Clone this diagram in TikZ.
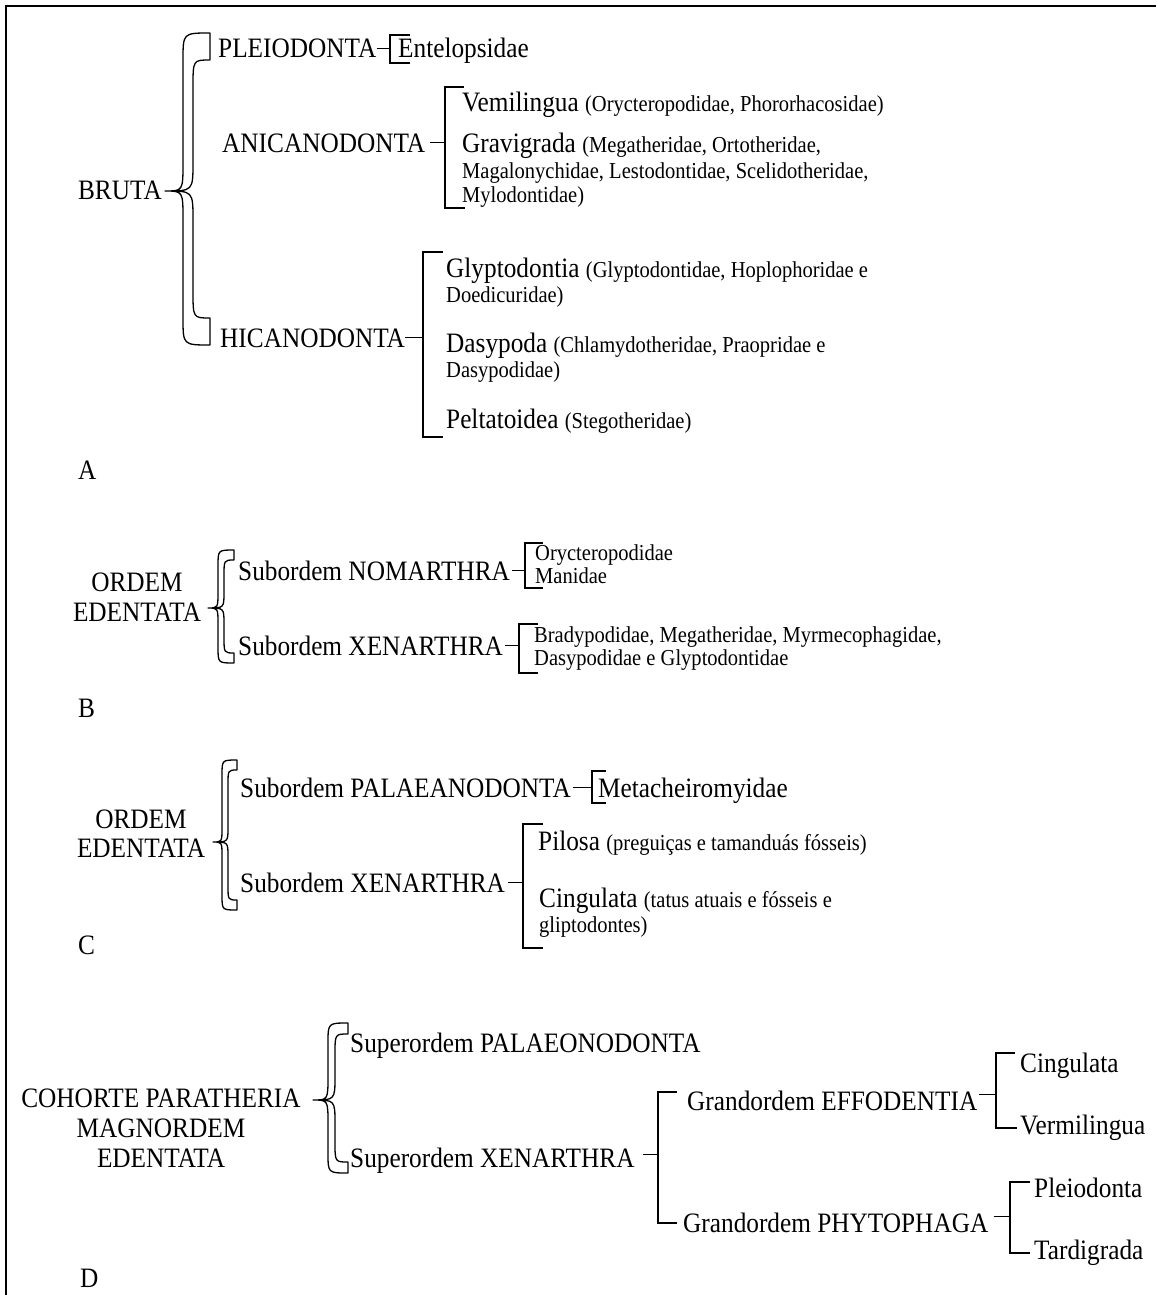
\documentclass[tikz,border=0pt]{standalone}
\usepackage{fontspec}
\setmainfont{Liberation Serif}[FakeStretch=0.9]
\usetikzlibrary{calc}

\newcommand{\sm}[1]{{\fontsize{22.8}{27}\selectfont #1}}
% hollow curly brace: tip x, spine x, end x, top y, tip y, bottom y, end height, stroke width
\newcommand{\hollowbrace}[8]{%
  \pgfmathsetmacro{\bk}{#3-#2}\pgfmathsetmacro{\bm}{1.6*(#2-#1)}%
  \draw[bracefill] (#3,#4) .. controls (#2,#4) .. (#2,#4+\bk)
    -- (#2,#5-\bm) .. controls (#2,#5) .. (#1,#5)
    .. controls (#2,#5) .. (#2,#5+\bm)
    -- (#2,#6-\bk) .. controls (#2,#6) .. (#3,#6)
    -- (#3,#6-#7) .. controls (#2+#8,#6-#7) .. (#2+#8,#6-#7-\bk)
    -- (#2+#8,#5+\bm) .. controls (#2+#8,#5) .. (#1,#5)
    .. controls (#2+#8,#5) .. (#2+#8,#5-\bm)
    -- (#2+#8,#4+#7+\bk) .. controls (#2+#8,#4+#7) .. (#3,#4+#7) -- cycle;}

\begin{document}
\begin{tikzpicture}[x=1pt,y=-1pt,
  taxon/.style={inner sep=0pt, anchor=base west, text height=18.6pt, text depth=0pt, font=\fontsize{28.1}{33}\selectfont},
  taxonsm/.style={inner sep=0pt, anchor=base west, font=\fontsize{22.8}{27}\selectfont},
  taxonc/.style={taxon, anchor=base},
  brk/.style={line width=1.5pt},
  bracefill/.style={line width=1.3pt, fill=white, line join=round}]
  \useasboundingbox (0,0) rectangle (1156,1295);
  \draw[line width=2pt] (6,1295) -- (6,6) -- (1156,6);

  % A
  \node[taxon, anchor=base east] (bruta) at (162,199) {BRUTA};
  \hollowbrace{165}{183}{210}{33}{191}{345}{27}{10}
  \node[taxon] (pleio) at (218,58) {PLEIODONTA};
  \node[taxon] (entel) at (398,58) {Entelopsidae};
  \node[taxon] (anican) at (222,152) {ANICANODONTA};
  \node[taxon] (vemil) at (462,112) {Vemilingua \sm{(Orycteropodidae, Phororhacosidae)}};
  \node[taxon] (gravi) at (462,152) {Gravigrada \sm{(Megatheridae, Ortotheridae,}};
  \node[taxonsm] (gravi2) at (462,178) {Magalonychidae, Lestodontidae, Scelidotheridae,};
  \node[taxonsm] (gravi3) at (462,202) {Mylodontidae)};
  \node[taxon] (hican) at (220,347) {HICANODONTA};
  \node[taxon] (glypt) at (446,277) {Glyptodontia \sm{(Glyptodontidae, Hoplophoridae e}};
  \node[taxonsm] (glypt2) at (446,302) {Doedicuridae)};
  \node[taxon] (dasyp) at (446,352) {Dasypoda \sm{(Chlamydotheridae, Praopridae e}};
  \node[taxonsm] (dasyp2) at (446,377) {Dasypodidae)};
  \node[taxon] (pelta) at (446,428) {Peltatoidea \sm{(Stegotheridae)}};
  \node[taxon] (labA) at (78,479) {A};

  \coordinate (pleioK) at (390,35);  \coordinate (pleioB) at (410,63);
  \coordinate (anicK) at (445,87);   \coordinate (anicB) at (465,208);
  \coordinate (hicK) at (423,252);   \coordinate (hicB) at (443,437);
  \draw[brk] (pleio.east) -- (pleio.east -| pleioK);
  \draw[brk] (pleioK) ++(20,0) -- (pleioK) |- (pleioB);
  \draw[brk, shorten <=5pt] (anican.east) -- (anican.east -| anicK);
  \draw[brk] (anicK) ++(19,0) -- (anicK) |- (anicB);
  \draw[brk] (hican.east) -- (hican.east -| hicK);
  \draw[brk] (hicK) ++(20,0) -- (hicK) |- (hicB);

  % B
  \node[taxonc] (ordB) at (137,591) {ORDEM};
  \node[taxonc] (edeB) at (137,621) {EDENTATA};
  \hollowbrace{208}{218}{234}{550}{608}{663}{10}{6}
  \node[taxon] (nomar) at (238,580) {Subordem NOMARTHRA};
  \node[taxonsm] (oryct) at (535,560) {Orycteropodidae};
  \node[taxonsm] (manid) at (535,583) {Manidae};
  \node[taxon] (xenB) at (238,655) {Subordem XENARTHRA};
  \node[taxonsm] (brady) at (534,642) {Bradypodidae, Megatheridae, Myrmecophagidae,};
  \node[taxonsm] (dasyB) at (534,665) {Dasypodidae e Glyptodontidae};
  \node[taxon] (labB) at (78,717) {B};

  \coordinate (nomK) at (525,543);   \coordinate (nomB) at (543,588);
  \coordinate (xenBK) at (519,624);  \coordinate (xenBB) at (538,673);
  \draw[brk, shorten <=2pt] (nomar.east) -- (nomar.east -| nomK);
  \draw[brk] (nomK) ++(18,0) -- (nomK) |- (nomB);
  \draw[brk, shorten <=2pt] (xenB.east) -- (xenB.east -| xenBK);
  \draw[brk] (xenBK) ++(19,0) -- (xenBK) |- (xenBB);

  % C
  \node[taxonc] (ordC) at (141,828) {ORDEM};
  \node[taxonc] (edeC) at (141,857) {EDENTATA};
  \hollowbrace{213}{222}{237}{760}{842}{910}{10}{6}
  \node[taxon] (palae) at (240,797) {Subordem PALAEANODONTA};
  \node[taxon] (metac) at (598,797) {Metacheiromyidae};
  \node[taxon] (xenC) at (240,892) {Subordem XENARTHRA};
  \node[taxon] (pilos) at (538,850) {Pilosa \sm{(preguiças e tamanduás fósseis)}};
  \node[taxon] (cingC) at (539,907) {Cingulata \sm{(tatus atuais e fósseis e}};
  \node[taxonsm] (cingC2) at (539,932) {gliptodontes)};
  \node[taxon] (labC) at (78,954) {C};

  \coordinate (palK) at (592,771);   \coordinate (palB) at (606,803);
  \coordinate (xenCK) at (523,824);  \coordinate (xenCB) at (543,948);
  \draw[brk, shorten <=2pt] (palae.east) -- (palae.east -| palK);
  \draw[brk] (palK) ++(14,0) -- (palK) |- (palB);
  \draw[brk, shorten <=3pt] (xenC.east) -- (xenC.east -| xenCK);
  \draw[brk] (xenCK) ++(20,0) -- (xenCK) |- (xenCB);

  % D
  \node[taxonc] (cohor) at (161,1107) {COHORTE PARATHERIA};
  \node[taxonc] (magno) at (161,1137) {MAGNORDEM};
  \node[taxonc] (edeD) at (161,1167) {EDENTATA};
  \hollowbrace{313}{328}{348}{1023}{1100}{1173}{11}{7}
  \node[taxon] (palaeo) at (350,1052) {Superordem PALAEONODONTA};
  \node[taxon] (xenD) at (350,1167) {Superordem XENARTHRA};
  \node[taxon] (effod) at (687,1110) {Grandordem EFFODENTIA};
  \node[taxon] (phyto) at (683,1232) {Grandordem PHYTOPHAGA};
  \node[taxon] (cingD) at (1020,1072) {Cingulata};
  \node[taxon] (vermD) at (1020,1134) {Vermilingua};
  \node[taxon] (pleiD) at (1034,1197) {Pleiodonta};
  \node[taxon] (tardi) at (1034,1259) {Tardigrada};
  \node[taxon] (labD) at (80,1287) {D};

  \coordinate (xenDK) at (658,1092); \coordinate (xenDB) at (677,1223);
  \coordinate (effK) at (996,1053);  \coordinate (effB) at (1017,1128);
  \coordinate (phyK) at (1010,1182); \coordinate (phyB) at (1030,1253);
  \draw[brk, shorten <=8pt] ([yshift=3pt]xenD.east) -- ([yshift=3pt]xenD.east -| xenDK);
  \draw[brk] (xenDK) ++(19,0) -- (xenDK) |- (xenDB);
  \draw[brk, shorten <=2pt] ([yshift=6pt]effod.east) -- ([yshift=6pt]effod.east -| effK);
  \draw[brk] (effK) ++(19,0) -- (effK) |- (effB);
  \draw[brk, shorten <=5pt] ([yshift=6pt]phyto.east) -- ([yshift=6pt]phyto.east -| phyK);
  \draw[brk] (phyK) ++(20,0) -- (phyK) |- (phyB);
\end{tikzpicture}
\end{document}
